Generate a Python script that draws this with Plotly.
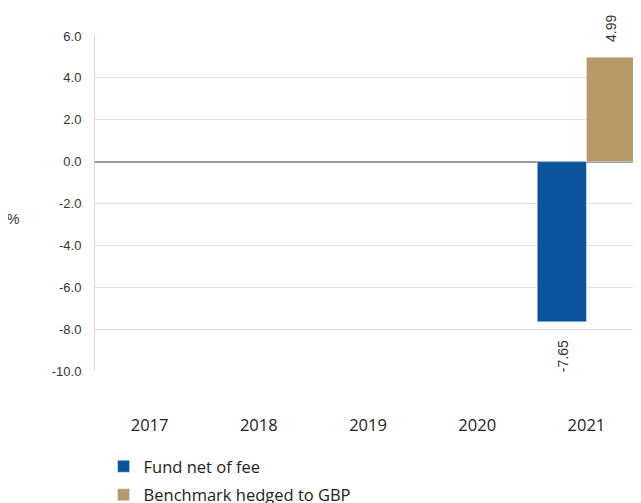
import plotly.graph_objects as go

years = ["2017", "2018", "2019", "2020", "2021"]
fund = [None, None, None, None, -7.65]
bench = [None, None, None, None, 4.99]
y_ticks = [6, 4, 2, 0, -2, -4, -6, -8, -10]
y_ticktext = ["6.0", "4.0", "2.0", "0.0", "-2.0", "-4.0", "-6.0", "-8.0", "-10.0"]

BLUE = "#0a549c"
TAN = "#b8996a"

fig = go.Figure()
fig.add_trace(go.Bar(x=years, y=fund, name="Fund net of fee", marker_color=BLUE,
                     legendgroup="a"))
fig.add_trace(go.Bar(x=years, y=bench, name="Benchmark hedged to GBP", marker_color=TAN,
                     legendgroup="b"))

annotations = []
for i, v in enumerate(fund):
    if v is not None:
        annotations.append(dict(x=i, y=v, xref="x", yref="y", text=f"{v:.2f}", showarrow=False,
                                textangle=-90, yanchor="top", xanchor="center", xshift=-24, yshift=-16,
                                font=dict(family="Liberation Sans, Arial", size=14, color="#333")))
for i, v in enumerate(bench):
    if v is not None:
        annotations.append(dict(x=i, y=v, xref="x", yref="y", text=f"{v:.2f}", showarrow=False,
                                textangle=-90, yanchor="bottom", xanchor="center", xshift=24, yshift=13,
                                font=dict(family="Liberation Sans, Arial", size=14, color="#333")))
annotations.append(dict(text="%", xref="paper", yref="paper", x=-0.150, y=0.454, showarrow=False,
                        xanchor="center", yanchor="middle",
                        font=dict(family="Liberation Sans, Arial", size=14, color="#333")))

fig.update_layout(
    width=633, height=495,
    margin=dict(l=87, r=0, t=28, b=132, autoexpand=False),
    plot_bgcolor="white", paper_bgcolor="white",
    barmode="group", bargap=0.1, bargroupgap=0,
    showlegend=True,
    legend=dict(orientation="v", xref="container", yref="container", x=0.151, y=0.109,
                xanchor="left", yanchor="top", traceorder="grouped",
                font=dict(family="Open Sans, Noto Sans", size=16.5, color="#222"),
                itemwidth=30, tracegroupgap=4),
    xaxis=dict(type="category", categoryorder="array", categoryarray=years,
               range=[-0.5, len(years) - 0.5],
               showline=False, ticks="", automargin=False,
               tickfont=dict(family="Open Sans, Noto Sans", size=16.5, color="#222"),
               ticklabelstandoff=42),
    yaxis=dict(range=[-10, 6], tickvals=y_ticks, ticktext=y_ticktext, automargin=False,
               showgrid=True, gridcolor="#e3e3e3", gridwidth=1,
               showline=True, linecolor="#d6d6d6", linewidth=1,
               zeroline=True, zerolinecolor="#9a9a9a", zerolinewidth=2,
               tickfont=dict(family="Liberation Sans, Arial", size=13, color="#333"),
               ticklabelstandoff=10),
    annotations=annotations,
)
fig.write_html("out.html")
